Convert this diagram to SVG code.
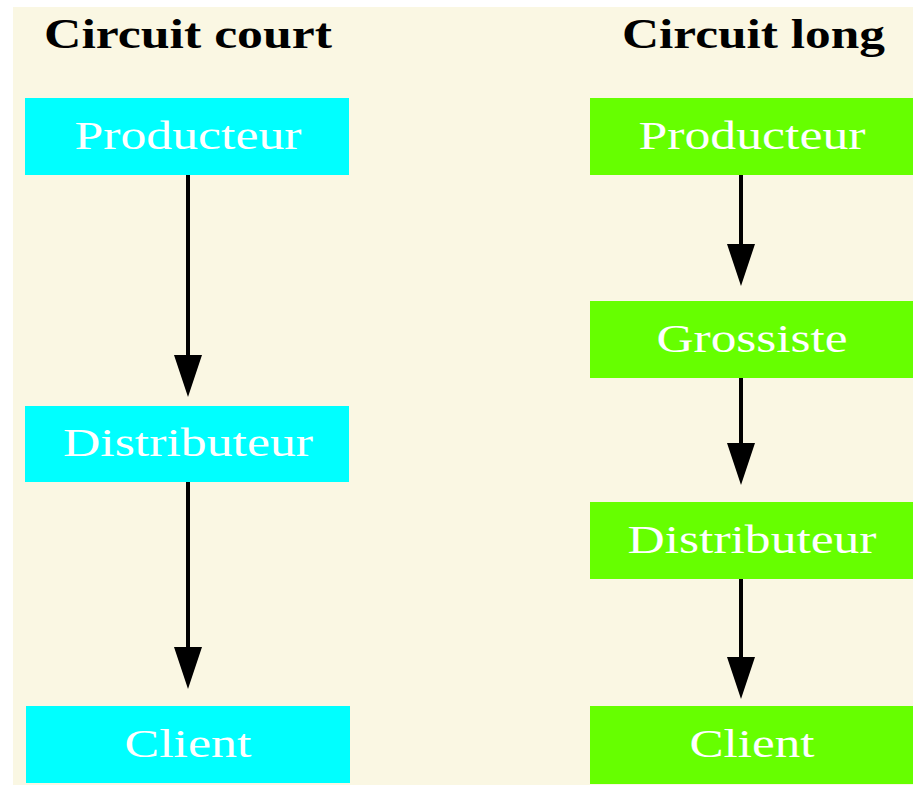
<svg xmlns="http://www.w3.org/2000/svg" width="913" height="785" viewBox="0 0 913 785">
  <style>
    .title { font-family: "Liberation Serif", "Times New Roman", serif; font-weight: bold; font-size: 42px; fill: #000000; }
    .label { font-family: "Liberation Serif", "Times New Roman", serif; font-size: 41px; fill: #ffffff; text-anchor: middle; }
    .short { fill: #00ffff; }
    .long { fill: #66ff00; }
    .edge { stroke: #000000; stroke-width: 4; fill: none; marker-end: url(#head); }
  </style>
  <defs>
    <marker id="head" viewBox="0 0 42 28" markerWidth="42" markerHeight="28" markerUnits="userSpaceOnUse" refX="2" refY="14" orient="auto">
      <path d="M0,0 L42,14 L0,28 Z" fill="#000000"/>
    </marker>
  </defs>

  <rect x="0" y="0" width="913" height="785" fill="#ffffff"/>
  <rect x="13" y="7" width="900" height="778" fill="#faf7e3"/>

  <!-- column headings -->
  <text class="title" x="44" y="48" textLength="288" lengthAdjust="spacingAndGlyphs">Circuit court</text>
  <text class="title" x="622" y="48" textLength="263" lengthAdjust="spacingAndGlyphs">Circuit long</text>

  <!-- short chain -->
  <g id="court-producteur">
    <rect class="short" x="25" y="98" width="324" height="77"/>
    <text class="label" x="188" y="149" textLength="227" lengthAdjust="spacingAndGlyphs">Producteur</text>
  </g>
  <g id="court-distributeur">
    <rect class="short" x="25" y="406" width="324" height="76"/>
    <text class="label" x="188" y="456" textLength="250" lengthAdjust="spacingAndGlyphs">Distributeur</text>
  </g>
  <g id="court-client">
    <rect class="short" x="26" y="706" width="324" height="77"/>
    <text class="label" x="188" y="757" textLength="127" lengthAdjust="spacingAndGlyphs">Client</text>
  </g>

  <!-- long chain -->
  <g id="long-producteur">
    <rect class="long" x="590" y="98" width="323" height="77"/>
    <text class="label" x="752" y="149" textLength="227" lengthAdjust="spacingAndGlyphs">Producteur</text>
  </g>
  <g id="long-grossiste">
    <rect class="long" x="590" y="301" width="323" height="77"/>
    <text class="label" x="752" y="352" textLength="191" lengthAdjust="spacingAndGlyphs">Grossiste</text>
  </g>
  <g id="long-distributeur">
    <rect class="long" x="590" y="502" width="323" height="77"/>
    <text class="label" x="752" y="553" textLength="249" lengthAdjust="spacingAndGlyphs">Distributeur</text>
  </g>
  <g id="long-client">
    <rect class="long" x="590" y="706" width="323" height="78"/>
    <text class="label" x="752" y="757" textLength="125" lengthAdjust="spacingAndGlyphs">Client</text>
  </g>

  <!-- connectors -->
  <g id="connectors">
    <line class="edge" x1="188" y1="175" x2="188" y2="357"/>
    <line class="edge" x1="188" y1="482" x2="188" y2="649"/>
    <line class="edge" x1="741" y1="175" x2="741" y2="246"/>
    <line class="edge" x1="741" y1="378" x2="741" y2="445"/>
    <line class="edge" x1="741" y1="579" x2="741" y2="659"/>
  </g>
</svg>
